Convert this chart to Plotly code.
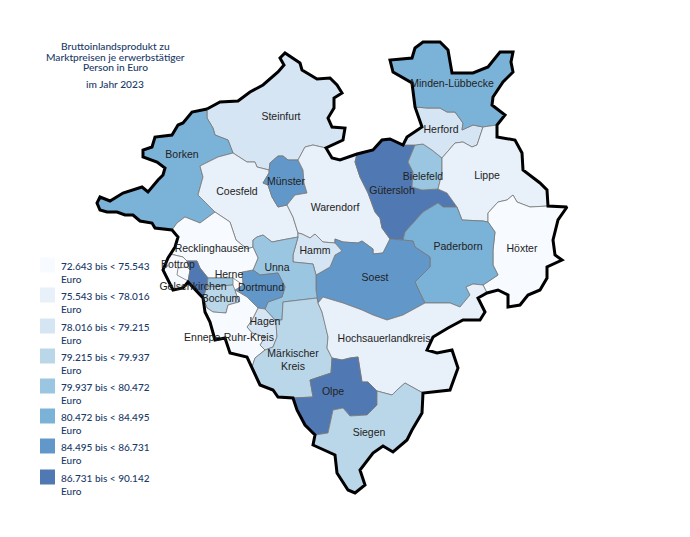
import plotly.graph_objects as go

# outlines, in picture pixels (x, y)
steinfurt = [(207,109),(220,102),(238,101),(250,92),(263,85),(278,72),(284,65),(280,58),(285,53),(300,63),(302,70),(317,79),(330,78),(337,85),(342,93),(334,98),(334,108),(328,118),(332,127),(345,128),(343,140),(326,148),(313,145),(305,147),(298,160),(288,160),(283,156),(278,156),(270,163),(269,170),(257,167),(255,162),(247,162),(233,153),(228,140),(215,135),(213,128),(207,118)]
borken = [(207,109),(207,118),(213,128),(215,135),(228,140),(233,153),(218,157),(200,166),(203,177),(198,195),(215,212),(200,223),(185,217),(177,223),(172,230),(155,228),(152,223),(140,221),(133,215),(125,215),(117,212),(107,212),(100,210),(97,203),(100,197),(110,201),(123,193),(142,187),(148,192),(158,180),(163,175),(165,168),(157,162),(143,157),(143,150),(152,147),(155,137),(172,135),(178,125),(183,123),(192,112)]
coesfeld = [(233,153),(247,162),(255,162),(257,167),(269,170),(269,173),(263,183),(268,185),(272,197),(278,207),(287,205),(293,217),(298,233),(298,237),(282,240),(272,242),(263,235),(257,237),(253,240),(253,247),(247,249),(236,240),(230,222),(215,212),(198,195),(203,177),(200,166),(218,157)]
muenster = [(270,163),(278,156),(283,156),(288,160),(298,160),(303,170),(304,183),(307,193),(295,195),(287,205),(278,207),(272,197),(268,185),(263,183),(269,173)]
warendorf = [(298,160),(305,147),(313,145),(326,148),(332,158),(340,160),(357,154),(355,162),(360,177),(368,193),(375,212),(380,218),(382,228),(390,239),(383,253),(373,254),(373,249),(362,241),(358,243),(343,242),(335,239),(335,243),(323,242),(315,234),(310,238),(302,234),(298,233),(293,217),(287,205),(295,195),(307,193),(304,183),(303,170)]
guetersloh = [(357,154),(373,150),(382,140),(390,139),(403,145),(415,145),(408,162),(413,172),(412,187),(422,190),(438,189),(447,193),(457,207),(443,207),(438,203),(423,212),(405,232),(403,240),(390,239),(382,228),(380,218),(375,212),(368,193),(360,177),(355,162)]
bielefeld = [(415,145),(423,144),(432,150),(442,158),(442,173),(438,189),(422,190),(412,187),(413,172),(408,162)]
herford = [(403,145),(407,137),(422,127),(415,107),(427,108),(440,108),(447,112),(455,112),(463,123),(462,130),(473,125),(483,127),(477,145),(472,147),(463,142),(455,143),(442,158),(432,150),(423,144),(415,145)]
minden = [(415,107),(412,83),(393,72),(390,60),(412,58),(415,48),(423,42),(440,42),(448,50),(452,73),(473,73),(488,67),(500,52),(513,52),(511,62),(513,72),(503,82),(493,97),(492,105),(505,115),(497,125),(483,127),(473,125),(462,130),(463,123),(455,112),(447,112),(440,108),(427,108)]
lippe = [(442,158),(455,143),(463,142),(472,147),(477,145),(483,127),(497,125),(497,137),(515,140),(522,153),(523,170),(540,183),(547,190),(548,206),(530,207),(517,202),(513,195),(507,200),(498,202),(488,213),(488,222),(483,221),(462,220),(457,207),(447,193),(438,189),(442,173)]
hoexter = [(488,213),(498,202),(507,200),(513,195),(517,202),(530,207),(548,206),(567,207),(558,220),(553,240),(555,255),(562,260),(547,267),(547,278),(540,290),(528,295),(520,305),(508,307),(508,295),(498,290),(487,293),(483,285),(498,275),(493,265),(493,250),(495,232),(488,222)]
paderborn = [(403,240),(405,232),(423,212),(438,203),(443,207),(457,207),(462,220),(483,221),(488,222),(495,232),(493,250),(493,265),(498,275),(483,285),(473,284),(466,287),(470,295),(460,307),(450,303),(425,303),(420,293),(415,282),(430,267),(430,257),(415,247),(413,241)]
soest = [(335,243),(335,239),(343,242),(358,243),(362,241),(373,249),(373,254),(383,253),(390,239),(403,240),(413,241),(415,247),(430,257),(430,267),(415,282),(420,293),(425,303),(403,315),(387,320),(373,315),(362,310),(343,303),(323,297),(318,303),(316,290),(316,275),(330,267),(335,255),(342,251)]
hamm = [(298,237),(298,233),(302,234),(310,238),(315,234),(323,242),(335,243),(342,251),(335,255),(330,267),(316,275),(313,264),(293,262),(293,255)]
unna = [(253,240),(257,237),(263,235),(272,242),(282,240),(298,237),(293,255),(293,262),(313,264),(316,275),(316,290),(318,303),(317,298),(283,302),(282,320),(275,320),(265,309),(268,302),(282,297),(285,287),(278,273),(260,275),(253,270),(258,258),(253,247)]
dortmund = [(242,272),(253,270),(260,275),(278,273),(285,287),(282,297),(268,302),(265,309),(258,308),(247,297),(235,290),(243,285)]
recklinghausen = [(172,230),(177,223),(185,217),(200,223),(215,212),(230,222),(236,240),(247,249),(253,247),(258,258),(253,270),(242,272),(243,285),(233,278),(208,278),(200,268),(197,261),(187,261),(183,257),(175,255),(170,254),(175,247),(178,237)]
bottrop = [(170,254),(175,255),(183,257),(187,261),(190,270),(188,282),(183,288),(173,290),(167,277),(163,270),(168,258)]
bottrop_hook = [(178,268),(187,267),(190,270),(188,281),(177,275)]
gelsenkirchen = [(187,261),(197,261),(200,268),(208,278),(207,287),(203,298),(200,293),(188,282),(190,270)]
herne = [(208,278),(233,278),(233,285),(207,287)]
bochum = [(207,287),(233,285),(235,290),(239,302),(228,305),(226,313),(213,312),(207,308),(203,298)]
hagen = [(258,308),(265,309),(275,320),(276,323),(277,337),(273,347),(265,350),(260,345),(265,337),(252,333),(247,327),(252,320)]
ennepe = [(203,298),(207,308),(213,312),(226,313),(228,305),(239,302),(235,290),(247,297),(258,308),(252,320),(247,327),(252,333),(265,337),(260,345),(265,350),(255,358),(252,367),(247,357),(230,353),(225,338),(215,340),(210,322),(205,312)]
maerkisch = [(283,302),(317,298),(318,303),(322,312),(325,323),(328,337),(327,348),(332,358),(331,373),(310,380),(313,397),(293,398),(278,397),(273,390),(260,385),(252,367),(255,358),(265,350),(273,347),(277,337),(276,323),(275,320),(282,320)]
hochsauerland = [(318,303),(323,297),(343,303),(362,310),(373,315),(387,320),(403,315),(425,303),(450,303),(460,307),(470,295),(466,287),(473,284),(483,285),(487,293),(478,298),(485,312),(480,320),(463,320),(448,328),(433,337),(427,350),(437,353),(452,350),(458,368),(450,390),(423,393),(405,383),(397,390),(392,395),(377,391),(368,382),(362,382),(360,370),(358,357),(350,358),(342,360),(332,358),(327,348),(328,337),(325,323),(322,312)]
olpe = [(332,358),(342,360),(350,358),(358,357),(360,370),(362,382),(368,382),(377,391),(377,405),(367,415),(350,416),(343,408),(333,410),(328,433),(315,435),(305,425),(297,410),(293,398),(313,397),(310,380),(331,373)]
siegen = [(377,391),(392,395),(397,390),(405,383),(423,393),(422,413),(412,430),(407,440),(393,452),(383,446),(373,453),(360,470),(365,485),(355,493),(348,490),(337,473),(335,455),(313,445),(315,435),(328,433),(333,410),(343,408),(350,416),(367,415),(377,405)]

outer_border = [(207,109),(220,102),(238,101),(250,92),(263,85),(278,72),(284,65),(280,58),(285,53),(300,63),(302,70),(317,79),(330,78),(337,85),(342,93),(334,98),(334,108),(328,118),(332,127),(345,128),(343,140),(326,148),(332,158),(340,160),(357,154),(373,150),(382,140),(390,139),(403,145),(407,137),(422,127),(415,107),(412,83),(393,72),(390,60),(412,58),(415,48),(423,42),(440,42),(448,50),(452,73),(473,73),(488,67),(500,52),(513,52),(511,62),(513,72),(503,82),(493,97),(492,105),(505,115),(497,125),(497,137),(515,140),(522,153),(523,170),(540,183),(547,190),(548,206),(567,207),(558,220),(553,240),(555,255),(562,260),(547,267),(547,278),(540,290),(528,295),(520,305),(508,307),(508,295),(498,290),(487,293),(478,298),(485,312),(480,320),(463,320),(448,328),(433,337),(427,350),(437,353),(452,350),(458,368),(450,390),(423,393),(422,413),(412,430),(407,440),(393,452),(383,446),(373,453),(360,470),(365,485),(355,493),(348,490),(337,473),(335,455),(313,445),(315,435),(305,425),(297,410),(293,398),(278,397),(273,390),(260,385),(252,367),(247,357),(230,353),(225,338),(215,340),(210,322),(205,312),(203,298),(188,282),(183,288),(173,290),(167,277),(163,270),(168,258),(175,247),(178,237),(172,230),(155,228),(152,223),(140,221),(133,215),(125,215),(117,212),(107,212),(100,210),(97,203),(100,197),(110,201),(123,193),(142,187),(148,192),(158,180),(163,175),(165,168),(157,162),(143,157),(143,150),(152,147),(155,137),(172,135),(178,125),(183,123),(192,112),(207,109)]

class_colors = ['#f7fbff', '#e8f0f9', '#d6e5f3', '#bad7e9', '#9ac6e1', '#7bb2d7', '#6298c9', '#5079b3']
class_labels = ['72.643 bis < 75.543', '75.543 bis < 78.016', '78.016 bis < 79.215', '79.215 bis < 79.937',
                '79.937 bis < 80.472', '80.472 bis < 84.495', '84.495 bis < 86.731', '86.731 bis < 90.142']
legend_y = [265, 295, 326, 356, 386, 416, 446, 477]

title_lines = ['Bruttoinlandsprodukt zu', 'Marktpreisen je erwerbstätiger', 'Person in Euro', 'im Jahr 2023']
title_y = [46, 56.5, 67, 84]

regions = [(steinfurt, 2), (borken, 5), (coesfeld, 1), (muenster, 6), (warendorf, 1), (guetersloh, 7),
           (bielefeld, 4), (herford, 2), (minden, 5), (lippe, 1), (hoexter, 0), (paderborn, 5), (soest, 6),
           (hamm, 2), (unna, 4), (dortmund, 6), (recklinghausen, 0), (bottrop, 0), (bottrop_hook, 0), (gelsenkirchen, 7),
           (herne, 4), (bochum, 3), (hagen, 2), (ennepe, 0), (maerkisch, 3), (hochsauerland, 1), (olpe, 7), (siegen, 3)]

label_names = ['Steinfurt', 'Borken', 'Coesfeld', 'Münster', 'Warendorf', 'Minden-Lübbecke', 'Herford', 'Bielefeld',
               'Gütersloh', 'Lippe', 'Höxter', 'Paderborn', 'Recklinghausen', 'Hamm', 'Unna', 'Herne', 'Dortmund',
               'Bottrop', 'Gelsenkirchen', 'Bochum', 'Soest', 'Hagen', 'Ennepe-Ruhr-Kreis', 'Hochsauerlandkreis',
               'Märkischer<br>Kreis', 'Olpe', 'Siegen']
label_x = [281, 182, 237, 286, 335, 452, 441, 423, 392, 487, 522, 458, 212, 315, 277, 229, 261, 178, 193, 221, 375, 265, 229, 384, 293, 333, 369]
label_y = [117, 155, 192, 182, 208, 84, 130, 177, 191, 176, 249, 247, 249, 251, 268, 275, 288, 265, 287, 299, 278, 322, 338, 339, 361, 392, 433]

fig = go.Figure()

for outline, cls in regions:
    pts = outline + outline[:1]
    fig.add_trace(go.Scatter(x=[p[0] for p in pts], y=[p[1] for p in pts],
                             mode='lines', fill='toself',
                             fillcolor=class_colors[cls],
                             line={'color': '#777777', 'width': 0.8},
                             hoverinfo='skip', showlegend=False))

fig.add_trace(go.Scatter(x=[p[0] for p in outer_border], y=[p[1] for p in outer_border],
                         mode='lines', line={'color': '#000000', 'width': 3},
                         hoverinfo='skip', showlegend=False))

fig.add_trace(go.Scatter(x=label_x, y=label_y, mode='text', text=label_names,
                         textposition='middle center',
                         textfont={'family': 'Liberation Sans', 'size': 10.5, 'color': '#222222'},
                         hoverinfo='skip', showlegend=False))

# legend drawn by hand, it sits in the left column of the picture
fig.add_trace(go.Scatter(x=[47.5] * len(legend_y), y=legend_y, mode='markers',
                         marker={'symbol': 'square', 'size': 15, 'color': class_colors, 'line': {'width': 0}},
                         hoverinfo='skip', showlegend=False))
for lab, ly in zip(class_labels, legend_y):
    fig.add_annotation(x=58.5, y=ly + 7, text=lab + '<br>Euro', showarrow=False, xanchor='left', align='left',
                       font={'family': 'Lato', 'size': 10, 'color': '#1a3a68', 'weight': 500})

# title lines sit closer than plotly's own line height, so one annotation each
for line, ty in zip(title_lines, title_y):
    fig.add_annotation(x=115, y=ty, text=line, showarrow=False,
                       font={'family': 'Lato', 'size': 10.2, 'color': '#1a3a68', 'weight': 500})

fig.update_xaxes(range=[0, 690], visible=False)
fig.update_yaxes(range=[537, 0], visible=False)
fig.update_layout(width=690, height=537, margin={'l': 0, 'r': 0, 't': 0, 'b': 0},
                  plot_bgcolor='white', paper_bgcolor='white')

fig.write_html("out.html", config={'displayModeBar': False}, post_script="document.body.style.margin='0';")
